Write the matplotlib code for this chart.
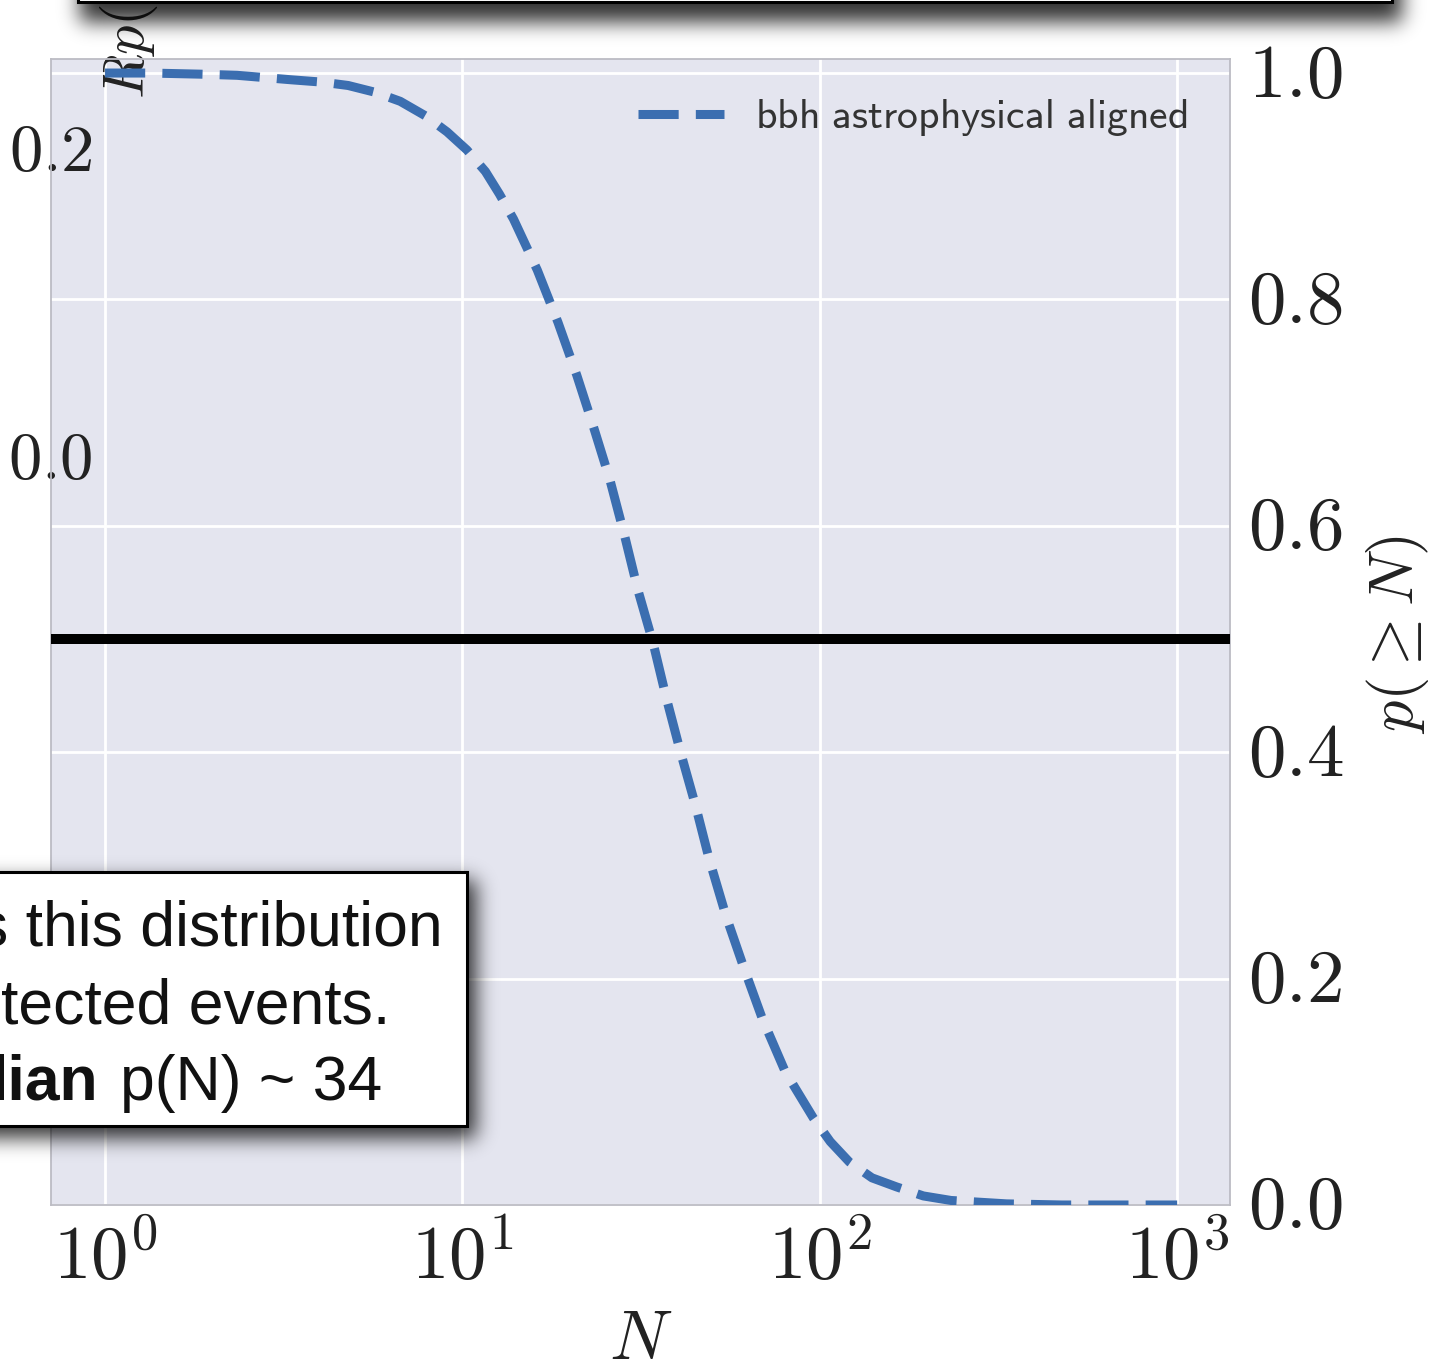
import numpy as np
import matplotlib
matplotlib.use('Agg')
import matplotlib.pyplot as plt
import matplotlib.transforms as mtransforms
from matplotlib.patches import Rectangle
import seaborn as sns

# cumulative probability p(>= N) of detected events
n_events = [1.0, 1.34, 1.85, 2.34, 3.33, 4.04, 4.79, 5.70, 6.70, 7.90, 9.06,
            10.3, 11.6, 12.7, 13.9, 16.2, 18.5, 20.9, 23.4, 25.9, 28.4, 31.0,
            34.2, 37.2, 40.7, 44.9, 49.0, 54.7, 61.1, 69.0, 80.0, 95.9, 107.0,
            121.0, 140.0, 164.0, 195.0, 233.0, 333.0, 476.0, 1000.0]
p_geq_n = [1.0, 1.0, 0.999, 0.998, 0.994, 0.992, 0.989, 0.983, 0.975, 0.962,
           0.948, 0.932, 0.913, 0.893, 0.871, 0.826, 0.780, 0.733, 0.685,
           0.640, 0.592, 0.543, 0.496, 0.448, 0.401, 0.353, 0.306, 0.255,
           0.211, 0.165, 0.118, 0.077, 0.056, 0.038, 0.024, 0.016, 0.008,
           0.004, 0.001, 0.0, 0.0]
median_level = 0.5
series_label = r'$\mathsf{bbh\ astrophysical\ aligned}$'

x_ticks = [1, 10, 100, 1000]
x_ticklabels = [r'$10^{0}$', r'$10^{1}$', r'$10^{2}$', r'$10^{3}$']
p_ticks = [0.0, 0.2, 0.4, 0.6, 0.8, 1.0]
p_ticklabels = [r'$0.0$', r'$0.2$', r'$0.4$', r'$0.6$', r'$0.8$', r'$1.0$']
r_ticks = [0.0, 0.2]
r_ticklabels = [r'$0.0$', r'$0.2$']

note_lines = ['s this distribution', 'tected events.']
note_bold = 'lian'
note_tail = 'p(N) ~ 34'

W, H = 1431, 1360
DPI = 100

sns.set_style('darkgrid')
plt.rcParams['mathtext.fontset'] = 'cm'
plt.rcParams['font.family'] = ['DejaVu Sans']

fig = plt.figure(figsize=(W / DPI, H / DPI), dpi=DPI)


def fx(x):
    return x / W


def fy(y):
    return 1 - y / H


def raise_labels(labels, px):
    shift = mtransforms.ScaledTranslation(0, px / DPI, fig.dpi_scale_trans)
    for lab in labels:
        lab.set_transform(lab.get_transform() + shift)


ax = fig.add_axes([fx(51), fy(1205), 1179 / W, 1146 / H])
ax.set_facecolor('#e4e5ef')
ax.set_xscale('log')
ax.set_xlim(0.706, 1406)
ax.set_ylim(-0.4838, 0.2604)
ax.set_xticks(x_ticks)
ax.set_xticklabels(x_ticklabels, fontsize=54, color='#222222')
ax.xaxis.set_minor_locator(matplotlib.ticker.NullLocator())
ax.set_yticks(r_ticks)
ax.set_yticklabels(r_ticklabels, fontsize=48, color='#222222')
ax.tick_params(axis='x', length=0, pad=12)
ax.tick_params(axis='y', length=0, pad=-30)
raise_labels(ax.get_yticklabels(), 7)
ax.grid(axis='x', color='white', lw=2)
ax.grid(axis='y', visible=False)
ax.set_xlabel(r'$N$', fontsize=50, color='#222222')
ax.xaxis.set_label_coords(0.5, -0.088)
ax.set_ylabel(r'$Rp(N)$', fontsize=42, color='#222222')
ax.yaxis.set_label_coords((129 - 51) / 1179, (1205 - 99) / 1146)
ax.yaxis.label.set_rotation_mode('default')
ax.yaxis.label.set_va('bottom')
ax.yaxis.label.set_ha('center')
for s in ax.spines.values():
    s.set_visible(False)

ax2 = ax.twinx()
ax2.set_ylim(0, 1.0124)
ax2.set_yticks(p_ticks)
ax2.set_yticklabels(p_ticklabels, fontsize=54, color='#222222')
ax2.tick_params(axis='y', length=0, pad=13)
raise_labels(ax2.get_yticklabels(), 5)
ax2.grid(axis='y', color='white', lw=2)
ax2.grid(axis='x', visible=False)
for s in ax2.spines.values():
    s.set_visible(True)
    s.set_color('#bcbcc4')
    s.set_linewidth(1.3)

ax2.axhline(median_level, color='black', lw=7.2, zorder=3)
line, = ax2.plot(n_events, p_geq_n, color='#3b6eb0', lw=6.5, ls='--',
                 label=series_label, zorder=4)
line.set_dashes((4.45, 1.9))

ax2.set_ylabel(r'$p(\geq N)$', fontsize=45, color='#222222')
ax2.yaxis.set_label_coords((1398 - 51) / 1179, (1205 - 635) / 1146)
ax2.yaxis.label.set_rotation_mode('default')
ax2.yaxis.label.set_va('center')
ax2.yaxis.label.set_ha('center')

ax2.legend(loc='center right', bbox_to_anchor=((1187 - 51) / 1179, (1205 - 117) / 1146),
           frameon=False, fontsize=30, handlelength=2.05, handletextpad=0.75,
           borderpad=0, borderaxespad=0, labelcolor='#333333')


# soft drop shadows behind the two callout boxes
def shadow_layer(rects, sigma, alpha):
    r = int(3 * sigma)
    mask = np.zeros((H + 2 * r, W + 2 * r))
    for x0, y0, x1, y1 in rects:
        ya, yb = max(y0 + r, 0), min(y1 + r, H + 2 * r)
        xa, xb = max(x0 + r, 0), min(x1 + r, W + 2 * r)
        mask[ya:yb, xa:xb] = 1.0
    k = np.exp(-0.5 * (np.arange(-r, r + 1) / sigma) ** 2)
    k /= k.sum()
    mask = np.apply_along_axis(lambda v: np.convolve(v, k, 'same'), 0, mask)
    mask = np.apply_along_axis(lambda v: np.convolve(v, k, 'same'), 1, mask)
    mask = mask[r:r + H, r:r + W]
    rgba = np.zeros((H, W, 4))
    rgba[..., 3] = np.clip(mask * alpha, 0, 1)
    return rgba


top_box = (78, -300, 1392, 2)
note_box = (-300, 872, 467, 1126)

shade = shadow_layer([(80, -300, 1402, 22), (-300, 880, 476, 1138)], 10, 0.8)
fig.figimage(shade, xo=0, yo=0, origin='upper', zorder=5)

for x0, y0, x1, y1 in [top_box, note_box]:
    fig.add_artist(Rectangle((fx(x0), fy(y1)), (x1 - x0) / W, (y1 - y0) / H,
                             transform=fig.transFigure, facecolor='white',
                             edgecolor='black', lw=2.2, zorder=10))

txt = dict(fontsize=45, family='Liberation Sans', color='#111111', zorder=11,
           va='baseline')
fig.text(fx(443), fy(945), note_lines[0], ha='right', **txt)
fig.text(fx(390), fy(1023), note_lines[1], ha='right', **txt)
fig.text(fx(98), fy(1100), note_bold, ha='right', fontweight='bold', **txt)
fig.text(fx(120), fy(1100), note_tail, ha='left', **txt)

fig.savefig('out.png', dpi=DPI)
